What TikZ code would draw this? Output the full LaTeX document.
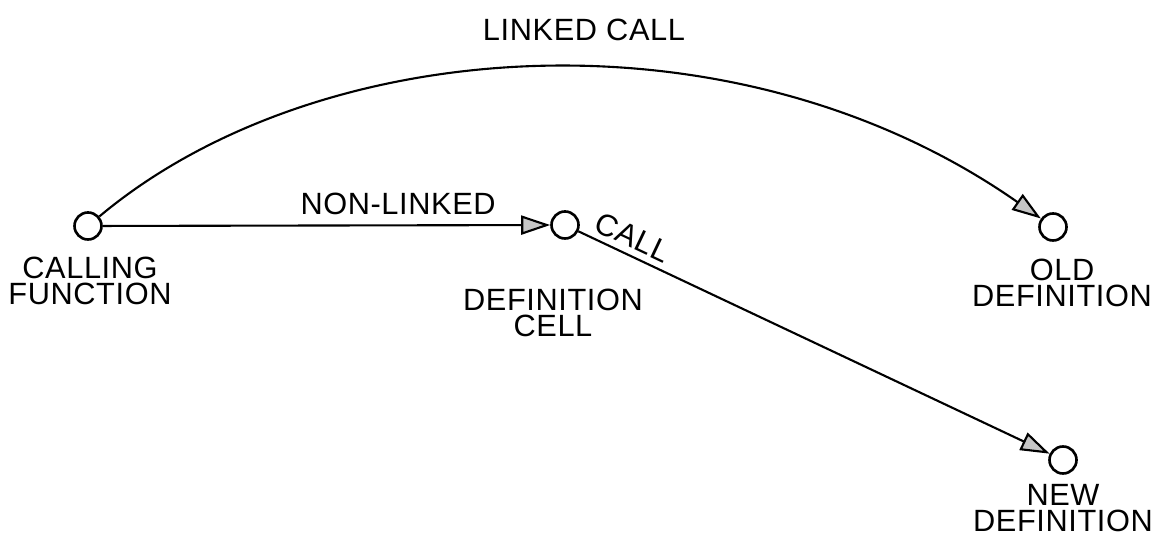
\documentclass[tikz,border=0pt]{standalone}
\usepackage{fontspec}
\setmainfont[LetterSpace=2]{Liberation Sans}
\usetikzlibrary{arrows.meta}

\begin{document}
\begin{tikzpicture}[x=0.02cm, y=0.02cm,
    cell/.style={draw, circle, line width=1.5pt, minimum size=0.54cm, inner sep=0pt},
    lbl/.style={align=center, font=\fontsize{17.5}{14.5}\selectfont},
    arr/.style={line width=1.2pt, -{Triangle[length=0.58cm, width=0.38cm, fill=gray!45]}}]
    \useasboundingbox (0,0) rectangle (1166,544);

    \node[cell] (calling) at (88,318) {};
    \node[cell] (defcell) at (565,319) {};
    \node[cell] (olddef) at (1053,317) {};
    \node[cell] (newdef) at (1063,84) {};

    \node[lbl] (callinglbl) at (90,263) {CALLING\\FUNCTION};
    \node[lbl] (defcelllbl) at (553,231) {DEFINITION\\CELL};
    \node[lbl] (olddeflbl) at (1062,261) {OLD\\DEFINITION};
    \node[lbl] (newdeflbl) at (1063,36) {NEW\\DEFINITION};

    \node[lbl] (linkedlbl) at (584,514) {LINKED CALL};

    \draw[arr] (calling) -- (defcell) node[lbl, pos=0.66, above=2pt] (nonlinkedlbl) {NON-LINKED};
    \draw[arr] (calling) .. controls +(40:300) and +(145:390) .. (olddef);
    \draw[arr] (defcell) -- (newdef) node[lbl, pos=0.1, sloped, above=0pt] (calllbl) {CALL};
\end{tikzpicture}
\end{document}
